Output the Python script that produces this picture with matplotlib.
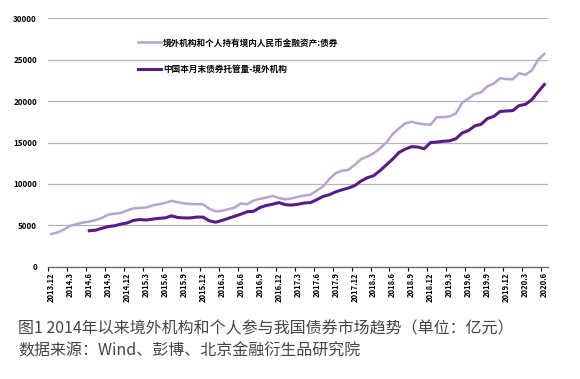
import numpy as np
import matplotlib
matplotlib.use("Agg")
import matplotlib.pyplot as plt

plt.rcParams['font.family'] = ['Noto Sans CJK SC', 'DejaVu Sans']

# ---------------- data (亿元), monthly 2013.12 - 2020.6 ----------------
months = []
y, m = 2013, 12
while (y, m) <= (2020, 6):
    months.append(f"{y}.{m}")
    m += 1
    if m > 12:
        y, m = y + 1, 1

# 境外机构和个人持有境内人民币金融资产:债券
holdings = [3950, 4150, 4500, 4950, 5150, 5350, 5450, 5650, 5900, 6300,
            6400, 6500, 6800, 7050, 7100, 7150, 7400, 7550, 7700, 7950,
            7800, 7650, 7580, 7550, 7550, 7000, 6700, 6750, 6950, 7150,
            7650, 7550, 8000, 8200, 8350, 8550, 8300, 8150, 8250, 8450,
            8600, 8700, 9200, 9700, 10600, 11300, 11600, 11700, 12300, 13000,
            13300, 13700, 14300, 15000, 16000, 16700, 17300, 17500, 17300, 17200,
            17150, 18050, 18050, 18150, 18500, 19800, 20300, 20860, 21050, 21800,
            22100, 22760, 22640, 22640, 23360, 23160, 23680, 24970, 25700]

# 中国本月末债券托管量-境外机构 (starts 2014.6)
custody = [None] * 6 + [
    4350, 4420, 4650, 4850, 4950, 5150, 5300, 5600, 5700, 5650,
    5750, 5850, 5900, 6150, 5950, 5900, 5900, 6000, 6000, 5550,
    5380, 5600, 5850, 6100, 6350, 6650, 6700, 7150, 7400, 7550,
    7750, 7500, 7450, 7550, 7700, 7750, 8100, 8500, 8700, 9050,
    9300, 9500, 9800, 10350, 10750, 11000, 11600, 12300, 13000, 13800,
    14200, 14500, 14450, 14250, 15000, 15050, 15150, 15200, 15450, 16150,
    16450, 17000, 17200, 17900, 18150, 18750, 18800, 18850, 19450, 19600,
    20150, 21100, 22000]

label_a = "境外机构和个人持有境内人民币金融资产:债券"
label_b = "中国本月末债券托管量-境外机构"
yticks = [0, 5000, 10000, 15000, 20000, 25000, 30000]

# ---------------- plot ----------------
x = np.arange(len(months))
cust = np.array([np.nan if v is None else v for v in custody], dtype=float)

fig = plt.figure(figsize=(5.8, 3.79), dpi=100)
ax = fig.add_axes([0.083, 0.296, 0.861, 0.656])

ax.plot(x, holdings, color='#b9a3cf', lw=1.8, label=label_a, solid_joinstyle='round')
ax.plot(x, cust, color='#5a1c84', lw=2.2, label=label_b, solid_joinstyle='round')

ax.set_xlim(-0.5, len(months) - 0.5)
ax.set_ylim(0, 30000)
ax.set_yticks(yticks)
ax.set_yticklabels([str(v) for v in yticks], fontsize=5.8, fontweight='bold')
ax.tick_params(axis='y', length=0, pad=8)
ax.yaxis.grid(True, color='#b5b5b5', lw=0.9)
ax.set_axisbelow(True)

lab_idx = x[::3]
ax.set_xticks(lab_idx)
ax.set_xticklabels([months[i] for i in lab_idx], rotation=90, fontsize=5.5,
                   fontweight='bold', va='top')
ax.set_xticks(lab_idx - 0.5, minor=True)
ax.tick_params(axis='x', which='major', length=0, pad=4)
ax.tick_params(axis='x', which='minor', length=3, width=0.8, direction='out')

for s in ['top', 'right', 'left']:
    ax.spines[s].set_visible(False)
ax.spines['bottom'].set_color('#666666')
ax.spines['bottom'].set_linewidth(0.9)

ax.legend(loc='upper left', bbox_to_anchor=(0.165, 0.95), frameon=False,
          handlelength=2.6, labelspacing=2.0, handletextpad=0.3,
          prop={'size': 6.2, 'weight': 'bold'})

fig.text(0.031, 0.133, "图1 2014年以来境外机构和个人参与我国债券市场趋势（单位：亿元）",
         fontsize=11.5, color='#454545', va='center', ha='left', fontweight='medium')
fig.text(0.031, 0.074, "数据来源：Wind、彭博、北京金融衍生品研究院",
         fontsize=11.5, color='#454545', va='center', ha='left', fontweight='medium')

fig.savefig("out.png", dpi=100)
